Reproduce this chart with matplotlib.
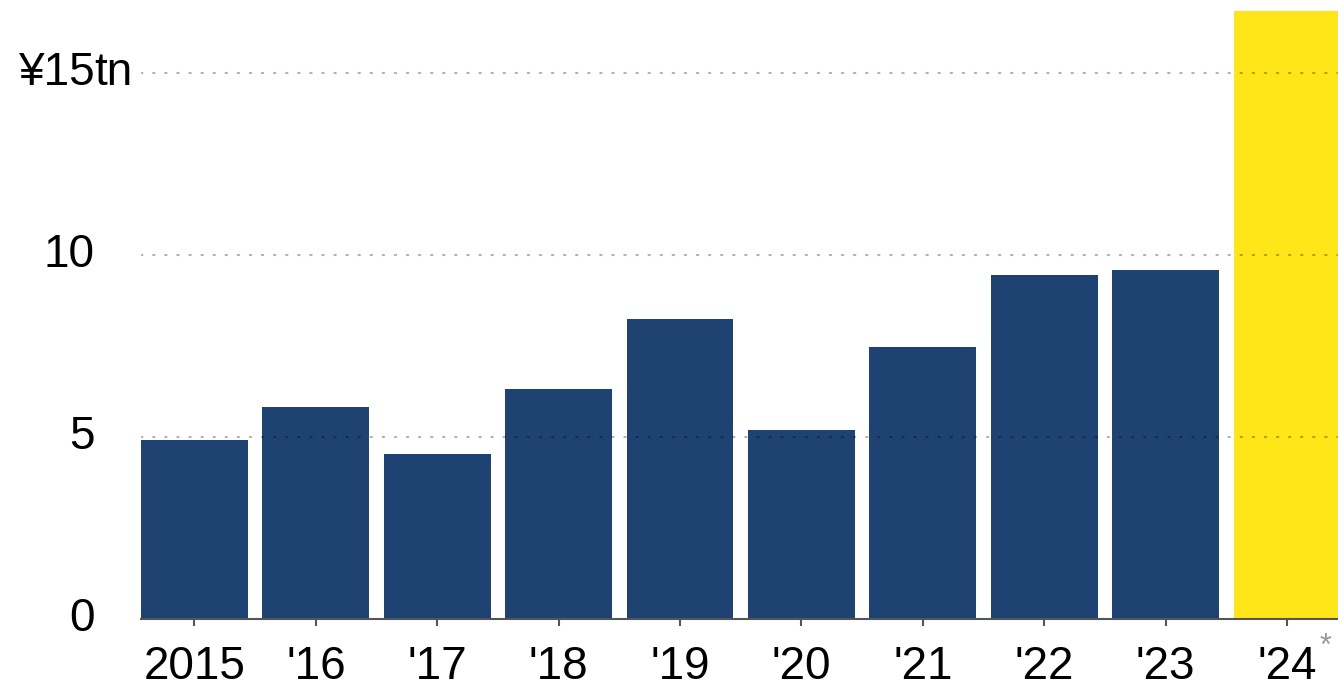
import matplotlib.pyplot as plt
from matplotlib import font_manager

# dados do gráfico (¥ trilhões por ano)
anos = ['2015', "'16", "'17", "'18", "'19", "'20", "'21", "'22", "'23", "'24"]
valores = [4.92, 5.82, 4.53, 6.32, 8.24, 5.19, 7.47, 9.45, 9.59, 16.7]
cores = ['#1e4272'] * 9 + ['#ffe619']
marcas_y = [0, 5, 10, 15]
rotulos_y = ['0', '5', '10', '¥15']

# fonte estreita, se existir
nomes = set(f.name for f in font_manager.fontManager.ttflist)
if 'Liberation Sans Narrow' in nomes:
    fonte, tam = 'Liberation Sans Narrow', 38
else:
    fonte, tam = 'Liberation Sans', 33
plt.rcParams['font.family'] = [fonte, 'DejaVu Sans']

fig = plt.figure(figsize=(13.38, 6.92), dpi=100)
ax = fig.add_axes([141 / 1338, 73 / 692, 1197 / 1338, 619 / 692])

x = list(range(len(anos)))
ax.bar(x, valores, width=0.88, color=cores, zorder=2)

ax.set_xlim(-0.44, 9.42)
ax.set_ylim(0, 17.0)

# linhas de grade pontilhadas por cima das barras
for v in marcas_y[1:]:
    ax.axhline(v, color='black', alpha=0.3, lw=1.5, ls=(0, (0.7, 5.1)),
               dash_capstyle='round', zorder=3)

for s in ['top', 'right', 'left']:
    ax.spines[s].set_visible(False)
ax.spines['bottom'].set_color('#555555')
ax.spines['bottom'].set_linewidth(1.5)

ax.set_xticks(x)
ax.set_xticklabels(anos, fontsize=tam)
ax.tick_params(axis='x', length=5, width=1.5, color='#555555', pad=14)
ax.set_yticks([])

# rótulos do eixo y
trans = ax.get_yaxis_transform()
for v, r in zip(marcas_y, rotulos_y):
    ax.text(-0.039, v, r, transform=trans, ha='right', va='center',
            fontsize=tam, clip_on=False)
ax.text(-0.039, 15, 'tn', transform=trans, ha='left', va='center',
        fontsize=tam, clip_on=False)

# asterisco do '24
ax.annotate('*', xy=(9, 0), xycoords='data', xytext=(38, -28),
            textcoords='offset pixels', ha='center', va='center',
            fontsize=22, color='#999999', annotation_clip=False)

fig.savefig('out.png', dpi=100)
